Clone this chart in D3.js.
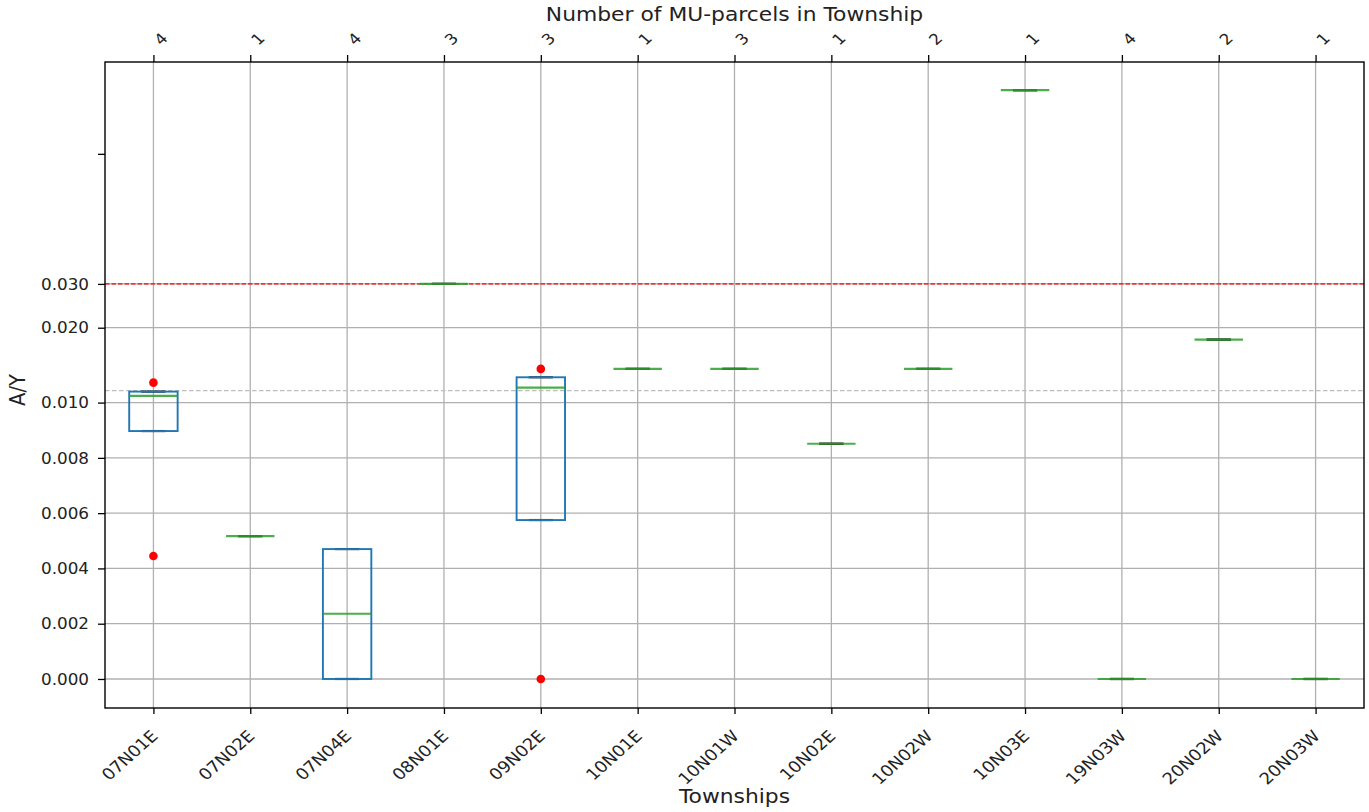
<!DOCTYPE html>
<html>
<head>
<meta charset="utf-8">
<script src="https://cdn.jsdelivr.net/npm/d3@7"></script>
<style>
  html, body { margin: 0; padding: 0; background: #fff; }
  svg { display: block; font-family: "DejaVu Sans", sans-serif; }
</style>
</head>
<body>
<svg id="chart" width="1369" height="812"></svg>
<script>
// ---------- data ----------
const townships = ["07N01E","07N02E","07N04E","08N01E","09N02E","10N01E","10N01W","10N02E","10N02W","10N03E","19N03W","20N02W","20N03W"];
const parcelCounts = [4,1,4,3,3,1,3,1,2,1,4,2,1];
const q1Values     = [0.00897,0.00517,0.0,0.030,0.00575,0.01366,0.01366,0.00851,0.01366,0.1803,0.0,0.01791,0.0];
const medianValues = [0.01064,0.00517,0.00236,0.030,0.01149,0.01366,0.01366,0.00851,0.01366,0.1803,0.0,0.01791,0.0];
const q3Values     = [0.01107,0.00517,0.00470,0.030,0.01264,0.01366,0.01366,0.00851,0.01366,0.1803,0.0,0.01791,0.0];
const whiskerLow   = [0.00897,0.00517,0.0,0.030,0.00575,0.01366,0.01366,0.00851,0.01366,0.1803,0.0,0.01791,0.0];
const whiskerHigh  = [0.01107,0.00517,0.00470,0.030,0.01264,0.01366,0.01366,0.00851,0.01366,0.1803,0.0,0.01791,0.0];
const outlierTownships = ["07N01E","07N01E","09N02E","09N02E"];
const outlierValues    = [0.01203,0.00445,0.01366,0.0];
const yTickValues = [0.000,0.002,0.004,0.006,0.008,0.010,0.020,0.030,0.1];
const yTickLabels = ["0.000","0.002","0.004","0.006","0.008","0.010","0.020","0.030",""];
const thresholdValue = 0.030;
const referenceValue = 0.01117;
const yDomain = [-0.00105, 0.234];

// ---------- layout ----------
const W = 1369, H = 812;
const margin = {left: 105, right: 5, top: 62, bottom: 104};
const w = W - margin.left - margin.right;
const h = H - margin.top - margin.bottom;
const SX = 1.12; // horizontal text stretch seen in the reference

const svg = d3.select("#chart");
const g = svg.append("g").attr("transform", `translate(${margin.left},${margin.top})`);

// symmetric-log transform (matplotlib style: linthresh 0.01, linscale 1, base 10)
const linthresh = 0.01;
const linscale = 1 / (1 - 1 / 10);
function tr(v) {
  const a = Math.abs(v), s = Math.sign(v);
  if (a <= linthresh) return s * (a / linthresh) * linscale;
  return s * (linscale + Math.log10(a / linthresh));
}
const yLin = d3.scaleLinear().domain(yDomain.map(tr)).range([h, 0]);
const y = v => yLin(tr(v));

const x = d3.scalePoint().domain(townships).range([0, w]).padding(0.5);
const step = x.step();
const boxW = step * 0.5, capW = step * 0.25;

const gridColor = "#b0b0b0";

// grid
g.append("g").selectAll("line").data(townships).join("line")
  .attr("x1", d => x(d)).attr("x2", d => x(d)).attr("y1", 0).attr("y2", h)
  .attr("stroke", gridColor).attr("stroke-width", 1.3);
g.append("g").selectAll("line").data(yTickValues.filter((d, i) => yTickLabels[i] !== "")).join("line")
  .attr("x1", 0).attr("x2", w).attr("y1", d => y(d)).attr("y2", d => y(d))
  .attr("stroke", gridColor).attr("stroke-width", 1.3);

// reference lines
g.append("line").attr("x1", 0).attr("x2", w).attr("y1", y(referenceValue)).attr("y2", y(referenceValue))
  .attr("stroke", "#bdbdbd").attr("stroke-width", 1.1).attr("stroke-dasharray", "4.5,2.5");
g.append("line").attr("x1", 0).attr("x2", w).attr("y1", y(thresholdValue)).attr("y2", y(thresholdValue))
  .attr("stroke", "#ff0000").attr("stroke-width", 1.1).attr("stroke-dasharray", "4.5,2");

// boxes
const boxes = g.append("g").selectAll("g").data(townships).join("g");
// whiskers
boxes.append("line").attr("x1", d => x(d)).attr("x2", d => x(d))
  .attr("y1", (d, i) => y(q1Values[i])).attr("y2", (d, i) => y(whiskerLow[i]))
  .attr("stroke", "#222").attr("stroke-width", 1.8);
boxes.append("line").attr("x1", d => x(d)).attr("x2", d => x(d))
  .attr("y1", (d, i) => y(q3Values[i])).attr("y2", (d, i) => y(whiskerHigh[i]))
  .attr("stroke", "#222").attr("stroke-width", 1.8);
// caps
boxes.append("line").attr("x1", d => x(d) - capW / 2).attr("x2", d => x(d) + capW / 2)
  .attr("y1", (d, i) => y(whiskerLow[i])).attr("y2", (d, i) => y(whiskerLow[i]))
  .attr("stroke", "#222").attr("stroke-width", 2.2);
boxes.append("line").attr("x1", d => x(d) - capW / 2).attr("x2", d => x(d) + capW / 2)
  .attr("y1", (d, i) => y(whiskerHigh[i])).attr("y2", (d, i) => y(whiskerHigh[i]))
  .attr("stroke", "#222").attr("stroke-width", 2.2);
// box
boxes.append("rect").attr("x", d => x(d) - boxW / 2).attr("width", boxW)
  .attr("y", (d, i) => y(q3Values[i])).attr("height", (d, i) => y(q1Values[i]) - y(q3Values[i]))
  .attr("fill", "none").attr("stroke", "#1f77b4").attr("stroke-width", 1.9);
// median
boxes.append("line").attr("x1", d => x(d) - boxW / 2).attr("x2", d => x(d) + boxW / 2)
  .attr("y1", (d, i) => y(medianValues[i])).attr("y2", (d, i) => y(medianValues[i]))
  .attr("stroke", "#2ca02c").attr("stroke-width", 2.2).attr("stroke-opacity", 0.85);

// fliers
g.append("g").selectAll("circle").data(outlierValues).join("circle")
  .attr("cx", (d, i) => x(outlierTownships[i])).attr("cy", d => y(d)).attr("r", 4.3)
  .attr("fill", "#ff0000");

// axes
const fontColor = "#222";
const yAxis = d3.axisLeft(yLin).tickValues(yTickValues.map(tr))
  .tickFormat((d, i) => yTickLabels[i]).tickSize(7);
const ya = g.append("g").call(yAxis);
const xAxis = d3.axisBottom(x).tickSize(6);
const xa = g.append("g").attr("transform", `translate(0,${h})`).call(xAxis);
const xTop = d3.axisTop(x).tickSize(7).tickFormat((d, i) => parcelCounts[i]);
const xt = g.append("g").call(xTop);

[ya, xa, xt].forEach(a => {
  a.select(".domain").remove();
  a.selectAll(".tick line").attr("stroke", "#000").attr("stroke-width", 1.3);
  a.selectAll("text").attr("fill", fontColor).style("font-family", "DejaVu Sans");
});
ya.selectAll("text").style("font-size", "15px")
  .attr("x", 0).attr("dy", "0.35em")
  .attr("transform", `translate(-16,0) scale(${SX},1)`);
xa.selectAll("text").style("font-size", "16px")
  .attr("text-anchor", "end").attr("y", 0).attr("dy", 0)
  .attr("transform", `translate(5,29) scale(${SX},1) rotate(-45)`);
xt.selectAll("text").style("font-size", "15px")
  .attr("text-anchor", "middle").attr("y", 0).attr("dy", "0.35em")
  .attr("transform", `translate(7,-23) scale(${SX},1) rotate(-45)`);

// frame
g.append("rect").attr("x", 0).attr("y", 0).attr("width", w).attr("height", h)
  .attr("fill", "none").attr("stroke", "#000").attr("stroke-width", 1.4);

// labels
svg.append("text").attr("text-anchor", "middle")
  .attr("transform", `translate(${margin.left + w / 2},21) scale(${SX},1)`)
  .style("font-size", "19.5px").attr("fill", fontColor).text("Number of MU-parcels in Township");
svg.append("text").attr("text-anchor", "middle")
  .attr("transform", `translate(${margin.left + w / 2},803) scale(${SX},1)`)
  .style("font-size", "19.5px").attr("fill", fontColor).text("Townships");
svg.append("text").attr("transform", `translate(25,390) scale(${SX},1) rotate(-90)`).attr("text-anchor", "middle")
  .style("font-size", "19.5px").attr("fill", fontColor).text("A/Y");
</script>
</body>
</html>
